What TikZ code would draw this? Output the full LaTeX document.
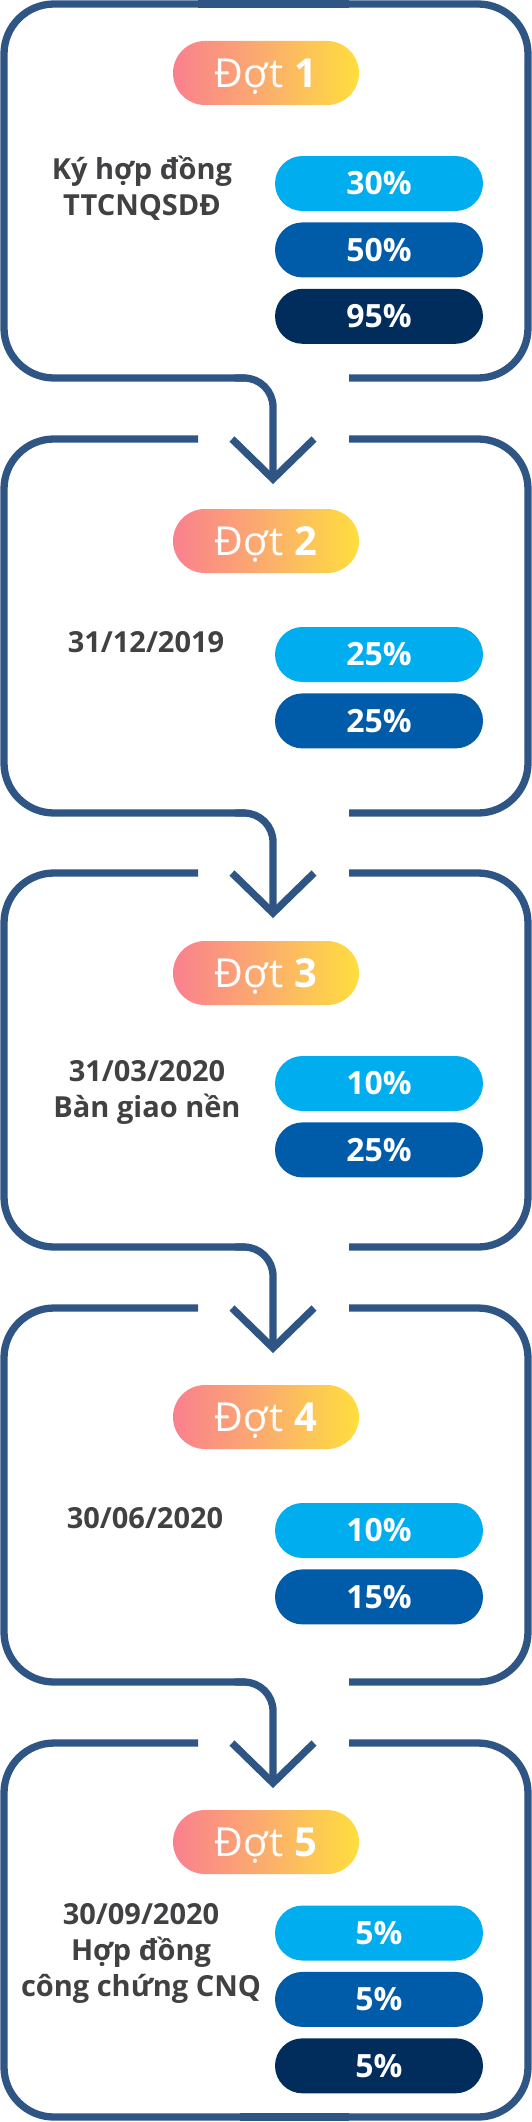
\documentclass[tikz,border=0pt]{standalone}
\usepackage{fontspec}
\setmainfont{Open Sans}
\usetikzlibrary{positioning}
\definecolor{frame}{HTML}{2F5585}
\definecolor{skyblue}{HTML}{00AEEF}
\definecolor{midblue}{HTML}{005BA8}
\definecolor{navy}{HTML}{002D5B}
\definecolor{pinkish}{HTML}{FA808E}
\definecolor{peach}{HTML}{FBAE6C}
\definecolor{sunny}{HTML}{FFDE3E}
\definecolor{darktext}{HTML}{414042}

\begin{document}
\begin{tikzpicture}[x=1pt, y=-1pt,
    frameline/.style={draw=frame, line width=7.3pt},
    phase/.style={rounded corners=32pt, minimum width=186pt, minimum height=64pt, inner sep=0pt, left color=pinkish, right color=sunny, middle color=peach, text=white, font=\fontsize{40}{40}\selectfont, text height=29pt, text depth=0pt},
    share/.style={rounded corners=27.5pt, minimum width=208pt, minimum height=55pt, inner sep=0pt, text=white, font=\fontsize{32}{32}\selectfont\bfseries, text height=22.5pt, text depth=0pt},
    datetext/.style={align=center, text=darktext, font=\fontsize{29}{36}\selectfont\bfseries, inner sep=0pt}
]
    \useasboundingbox (0,0) rectangle (532,2122);

    % Frames
    \foreach \t in {4,439,873,1308,1743} {
        \pgfmathsetmacro{\b}{\t+374}
        \draw[frameline, rounded corners=50pt] (198,\t) -- (4,\t) -- (4,\b) -- (245,\b);
        \draw[frameline, rounded corners=50pt] (349,\b) -- (528,\b) -- (528,\t) -- (349,\t);
    }
    \draw[frameline] (198,4) -- (349,4);
    \draw[frameline] (240,2117) -- (349,2117);

    % Nodes
    \node[phase] (dot1) at (266,73) {Đợt \textbf{1}};
    \node[datetext] (date1) at (142,188.5) {Ký hợp đồng\\TTCNQSDĐ};
    \node[share, fill=skyblue] (s11) at (379,183.5) {30\%};
    \node[share, fill=midblue, below=11pt of s11] (s12) {50\%};
    \node[share, fill=navy, below=11pt of s12] (s13) {95\%};

    \node[phase] (dot2) at (266,541) {Đợt \textbf{2}};
    \node[datetext] (date2) at (146,642) {31/12/2019};
    \node[share, fill=skyblue] (s21) at (379,654.5) {25\%};
    \node[share, fill=midblue, below=11pt of s21] (s22) {25\%};

    \node[phase] (dot3) at (266,973) {Đợt \textbf{3}};
    \node[datetext] (date3) at (147,1092) {31/03/2020\\Bàn giao nền};
    \node[share, fill=skyblue] (s31) at (379,1083.5) {10\%};
    \node[share, fill=midblue, below=11pt of s31] (s32) {25\%};

    \node[phase] (dot4) at (266,1417) {Đợt \textbf{4}};
    \node[datetext] (date4) at (145,1518) {30/06/2020};
    \node[share, fill=skyblue] (s41) at (379,1530.5) {10\%};
    \node[share, fill=midblue, below=11pt of s41] (s42) {15\%};

    \node[phase] (dot5) at (266,1842) {Đợt \textbf{5}};
    \node[datetext] (date5) at (141,1953) {30/09/2020\\Hợp đồng\\công chứng CNQ};
    \node[share, fill=skyblue] (s51) at (379,1933) {5\%};
    \node[share, fill=midblue, below=11pt of s51] (s52) {5\%};
    \node[share, fill=navy, below=11pt of s52] (s53) {5\%};

    % Arrows
    \coordinate (out1) at (235,378);  \coordinate (in2) at (273,479);
    \coordinate (out2) at (235,813);  \coordinate (in3) at (273,913);
    \coordinate (out3) at (235,1247); \coordinate (in4) at (273,1348);
    \coordinate (out4) at (235,1682); \coordinate (in5) at (273,1783);
    \foreach \i/\j in {1/2,2/3,3/4,4/5} {
        \draw[frameline, rounded corners=29pt] (out\i) -| (in\j);
        \draw[frameline, line join=miter] (in\j) ++(-41,-40) -- (in\j) -- ++(41,-40);
    }
\end{tikzpicture}
\end{document}
